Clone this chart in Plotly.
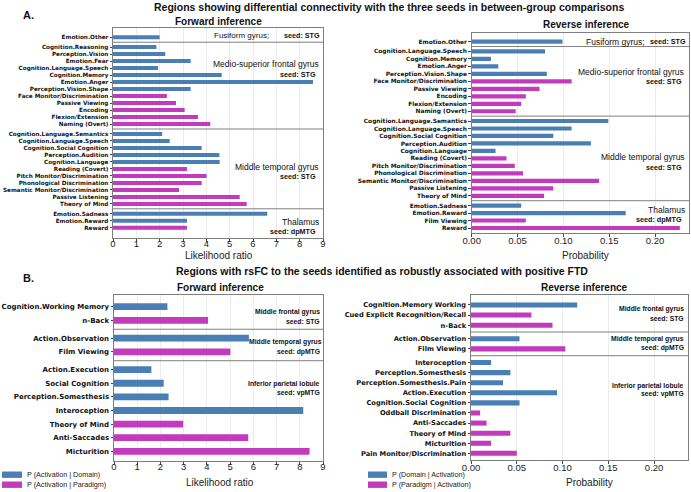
import plotly.graph_objects as go

W, H = 691, 492
BLUE = "#4A7FB6"
MAGENTA = "#C23BBC"
GRAY = "#7f7f7f"

# ---------------- Panel A, forward inference (likelihood ratio) ----------------
A_FWD_REGIONS = ["Fusiform gyrus;", "Medio-superior frontal gyrus", "Middle temporal gyrus", "Thalamus"]
A_FWD_SEEDS = ["seed: STG", "seed: STG", "seed: STG", "seed: dpMTG"]
A_FWD_SIZES = [1, 12, 11, 3]
A_FWD_CATS = [
    "Emotion.Other",
    "Cognition.Reasoning", "Perception.Vision", "Emotion.Fear", "Cognition.Language.Speech",
    "Cognition.Memory", "Emotion.Anger", "Perception.Vision.Shape", "Face Monitor/Discrimination",
    "Passive Viewing", "Encoding", "Flexion/Extension", "Naming (Overt)",
    "Cognition.Language.Semantics", "Cognition.Language.Speech", "Cognition.Social Cognition",
    "Perception.Audition", "Cognition.Language", "Reading (Covert)", "Pitch Monitor/Discrimination",
    "Phonological Discrimination", "Semantic Monitor/Discrimination", "Passive Listening", "Theory of Mind",
    "Emotion.Sadness", "Emotion.Reward", "Reward",
]
A_FWD_VALS = [
    2.0,
    1.86, 2.24, 3.33, 1.93, 4.66, 8.57, 3.33, 2.31, 2.70, 3.07, 3.64, 4.17,
    2.11, 2.43, 3.80, 4.56, 4.57, 3.17, 4.01, 3.80, 2.83, 5.43, 5.73,
    6.61, 3.17, 3.17,
]
A_FWD_KIND = [
    "D",
    "D", "D", "D", "D", "D", "D", "D", "P", "P", "P", "P", "P",
    "D", "D", "D", "D", "D", "P", "P", "P", "P", "P", "P",
    "D", "D", "P",
]

# ---------------- Panel A, reverse inference (probability) ----------------
A_REV_REGIONS = ["Fusiform gyrus;", "Medio-superior frontal gyrus", "Middle temporal gyrus", "Thalamus"]
A_REV_SEEDS = ["seed: STG", "seed: STG", "seed: STG", "seed: dpMTG"]
A_REV_SIZES = [1, 9, 11, 4]
A_REV_CATS = [
    "Emotion.Other",
    "Cognition.Language.Speech", "Cognition.Memory", "Emotion.Anger", "Perception.Vision.Shape",
    "Face Monitor/Discrimination", "Passive Viewing", "Encoding", "Flexion/Extension", "Naming (Overt)",
    "Cognition.Language.Semantics", "Cognition.Language.Speech", "Cognition.Social Cognition",
    "Perception.Audition", "Cognition.Language", "Reading (Covert)", "Pitch Monitor/Discrimination",
    "Phonological Discrimination", "Semantic Monitor/Discrimination", "Passive Listening", "Theory of Mind",
    "Emotion.Sadness", "Emotion.Reward", "Film Viewing", "Reward",
]
A_REV_VALS = [
    0.099,
    0.080, 0.021, 0.029, 0.082, 0.109, 0.074, 0.059, 0.054, 0.048,
    0.149, 0.109, 0.089, 0.130, 0.026, 0.038, 0.047, 0.056, 0.139, 0.089, 0.079,
    0.054, 0.168, 0.059, 0.227,
]
A_REV_KIND = [
    "D",
    "D", "D", "D", "D", "P", "P", "P", "P", "P",
    "D", "D", "D", "D", "D", "P", "P", "P", "P", "P", "P",
    "D", "D", "P", "P",
]

# ---------------- Panel B, forward inference (likelihood ratio) ----------------
B_FWD_REGIONS = ["Middle frontal gyrus", "Middle temporal gyrus", "Inferior parietal lobule"]
B_FWD_SEEDS = ["seed: STG", "seed: dpMTG", "seed: vpMTG"]
B_FWD_SIZES = [2, 2, 7]
B_FWD_CATS = [
    "Cognition.Working Memory", "n-Back",
    "Action.Observation", "Film Viewing",
    "Action.Execution", "Social Cognition", "Perception.Somesthesis", "Interoception",
    "Theory of Mind", "Anti-Saccades", "Micturition",
]
B_FWD_VALS = [2.30, 4.05, 5.81, 5.01, 1.61, 2.14, 2.35, 8.15, 2.98, 5.78, 8.42]
B_FWD_KIND = ["D", "P", "D", "P", "D", "D", "D", "D", "P", "P", "P"]

# ---------------- Panel B, reverse inference (probability) ----------------
B_REV_REGIONS = ["Middle frontal gyrus", "Middle temporal gyrus", "Inferior parietal lobule"]
B_REV_SEEDS = ["seed: STG", "seed: dpMTG", "seed: vpMTG"]
B_REV_SIZES = [3, 2, 10]
B_REV_CATS = [
    "Cognition.Memory Working", "Cued Explicit Recognition/Recall", "n-Back",
    "Action.Observation", "Film Viewing",
    "Interoception", "Perception.Somesthesis", "Perception.Somesthesis.Pain", "Action.Execution",
    "Cognition.Social Cognition", "Oddball Discrimination", "Anti-Saccades", "Theory of Mind",
    "Micturition", "Pain Monitor/Discrimination",
]
B_REV_VALS = [0.116, 0.066, 0.089, 0.053, 0.103, 0.022, 0.043, 0.035, 0.094,
              0.053, 0.010, 0.017, 0.043, 0.022, 0.050]
B_REV_KIND = ["D", "P", "P", "D", "P", "D", "D", "D", "D", "D", "P", "P", "P", "P", "P"]

FWD_TICKS = [0, 1, 2, 3, 4, 5, 6, 7, 8, 9]
REV_TICKS = [0.0, 0.05, 0.10, 0.15, 0.20]


def px(x):
    return x / W


def py(y):
    return 1 - y / H


def positions(sizes, gap):
    pos, seps, p = [], [], 0.0
    for gi, n in enumerate(sizes):
        for _ in range(n):
            pos.append(p)
            p += 1
        if gi < len(sizes) - 1:
            seps.append(p - 1 + gap / 2)
        p += gap - 1
    return pos, seps


PANELS = [
    dict(cats=A_FWD_CATS, vals=A_FWD_VALS, kind=A_FWD_KIND, sizes=A_FWD_SIZES,
         dx=(113, 323), dy=(28, 238), gap=1.4, top=1.33, bottom=1.47, bw=0.57,
         xr=[0, 9], ticks=FWD_TICKS, fmt="d", tfs=5.7, so=-6),
    dict(cats=A_REV_CATS, vals=A_REV_VALS, kind=A_REV_KIND, sizes=A_REV_SIZES,
         dx=(471.7, 689), dy=(33, 232.5), gap=1.3, top=1.16, bottom=0.6, bw=0.56,
         xr=[0, 0.237], ticks=REV_TICKS, fmt=".2f", tfs=5.9, so=-4),
    dict(cats=B_FWD_CATS, vals=B_FWD_VALS, kind=B_FWD_KIND, sizes=B_FWD_SIZES,
         dx=(114, 323), dy=(295, 461), gap=1.31, top=0.86, bottom=0.71, bw=0.5,
         xr=[0, 9], ticks=FWD_TICKS, fmt="d", tfs=7.0, so=-6),
    dict(cats=B_REV_CATS, vals=B_REV_VALS, kind=B_REV_KIND, sizes=B_REV_SIZES,
         dx=(471, 688), dy=(295, 460), gap=1.35, top=0.99, bottom=0.66, bw=0.5,
         xr=[0, 0.237], ticks=REV_TICKS, fmt=".2f", tfs=6.7, so=-4),
]

fig = go.Figure()
shapes = []
layout_axes = {}

for i, P in enumerate(PANELS):
    n = i + 1
    xa = "x" if n == 1 else f"x{n}"
    ya = "y" if n == 1 else f"y{n}"
    pos, seps = positions(P["sizes"], P["gap"])
    for kind, color in (("D", BLUE), ("P", MAGENTA)):
        ys = [p for p, k in zip(pos, P["kind"]) if k == kind]
        xs = [v for v, k in zip(P["vals"], P["kind"]) if k == kind]
        fig.add_trace(go.Bar(x=xs, y=ys, orientation="h", marker_color=color,
                             marker_line_width=0, width=P["bw"], xaxis=xa, yaxis=ya,
                             showlegend=False))
    for s in seps:
        shapes.append(dict(type="line", xref=f"{xa} domain", yref=ya, x0=0, x1=1, y0=s, y1=s,
                           line=dict(color=GRAY, width=1)))
    xkey = "xaxis" if n == 1 else f"xaxis{n}"
    ykey = "yaxis" if n == 1 else f"yaxis{n}"
    layout_axes[xkey] = dict(
        domain=[px(P["dx"][0]), px(P["dx"][1])], anchor=ya, range=P["xr"], automargin=False,
        tickvals=P["ticks"], tickformat=P["fmt"], showgrid=True, gridcolor="#ececec",
        gridwidth=1, zeroline=False, showline=True, mirror=True, linecolor=GRAY, linewidth=1,
        ticks="outside", ticklen=3, tickcolor="#444", ticklabelstandoff=P["so"],
        tickfont=dict(family="Liberation Sans, Arial, sans-serif", size=9.5, color="#222"),
    )
    layout_axes[ykey] = dict(
        domain=[py(P["dy"][1]), py(P["dy"][0])], anchor=xa, automargin=False,
        range=[pos[-1] + P["bottom"], -P["top"]], tickvals=pos, ticktext=P["cats"],
        showgrid=False, zeroline=False, showline=True, mirror=True, linecolor=GRAY, linewidth=1,
        ticks="outside", ticklen=2.5, tickcolor="#444",
        tickfont=dict(family="DejaVu Sans", size=P["tfs"], color="#111", weight="bold"),
    )

ann = []


def text(x, y, s, size, bold=False, anchor="center", family="Liberation Sans, Arial, sans-serif",
         color="#111"):
    ann.append(dict(x=px(x), y=py(y), xref="paper", yref="paper", text=s, showarrow=False,
                    xanchor=anchor, yanchor="middle",
                    font=dict(family=family, size=size, color=color,
                              weight="bold" if bold else "normal")))


# titles
text(389, 7, "Regions showing differential connectivity with the three seeds in between-group comparisons",
     10.5, bold=True)
text(28, 15, "A.", 11, bold=True)
text(218.5, 22, "Forward inference", 10, bold=True)
text(586, 25, "Reverse inference", 10, bold=True)
text(382, 271, "Regions with rsFC to the seeds identified as robustly associated with positive FTD",
     10.5, bold=True)
text(28, 278, "B.", 11, bold=True)
text(221, 287, "Forward inference", 10, bold=True)
text(584, 287, "Reverse inference", 10, bold=True)

# axis titles
text(219, 255, "Likelihood ratio", 10, color="#222")
text(585, 255, "Probability", 10, color="#222")
text(220, 482, "Likelihood ratio", 10, color="#222")
text(589, 482, "Probability", 10, color="#222")

# region labels, panel A forward
text(271, 35, A_FWD_REGIONS[0], 8.0, anchor="right")
text(321.5, 35, A_FWD_SEEDS[0], 7.2, bold=True, anchor="right")
text(321, 64.3, A_FWD_REGIONS[1], 8.5, anchor="right")
text(318, 74, A_FWD_SEEDS[1], 7.2, bold=True, anchor="right")
text(320.7, 167.3, A_FWD_REGIONS[2], 8.5, anchor="right")
text(318, 176.7, A_FWD_SEEDS[2], 7.2, bold=True, anchor="right")
text(320.7, 221.7, A_FWD_REGIONS[3], 8.5, anchor="right")
text(318, 231, A_FWD_SEEDS[3], 7.2, bold=True, anchor="right")

# region labels, panel A reverse
text(647, 41.7, A_REV_REGIONS[0], 8.5, anchor="right")
text(687.7, 41.7, A_REV_SEEDS[0], 7.2, bold=True, anchor="right")
text(686, 71.7, A_REV_REGIONS[1], 8.5, anchor="right")
text(684, 81.7, A_REV_SEEDS[1], 7.2, bold=True, anchor="right")
text(686.7, 157.3, A_REV_REGIONS[2], 8.5, anchor="right")
text(684, 167.3, A_REV_SEEDS[2], 7.2, bold=True, anchor="right")
text(686.7, 210, A_REV_REGIONS[3], 8.5, anchor="right")
text(684, 219.3, A_REV_SEEDS[3], 7.2, bold=True, anchor="right")

# region labels, panel B forward
text(322, 311.7, B_FWD_REGIONS[0], 6.8, bold=True, anchor="right")
text(322, 321.7, B_FWD_SEEDS[0], 6.8, bold=True, anchor="right")
text(324, 342.3, B_FWD_REGIONS[1], 6.8, bold=True, anchor="right")
text(322, 352, B_FWD_SEEDS[1], 6.8, bold=True, anchor="right")
text(322, 383.5, B_FWD_REGIONS[2], 6.8, bold=True, anchor="right")
text(322, 393.3, B_FWD_SEEDS[2], 6.8, bold=True, anchor="right")

# region labels, panel B reverse
text(686, 309.3, B_REV_REGIONS[0], 6.8, bold=True, anchor="right")
text(686, 318.3, B_REV_SEEDS[0], 6.8, bold=True, anchor="right")
text(686, 339, B_REV_REGIONS[1], 6.8, bold=True, anchor="right")
text(686, 348.3, B_REV_SEEDS[1], 6.8, bold=True, anchor="right")
text(686, 386, B_REV_REGIONS[2], 6.8, bold=True, anchor="right")
text(686, 394.3, B_REV_SEEDS[2], 6.8, bold=True, anchor="right")

# legends
LEGEND_FWD = ["P (Activation | Domain)", "P (Activation | Paradigm)"]
LEGEND_REV = ["P (Domain | Activation)", "P (Paradigm | Activation)"]
for (x0, x1, tx, labels) in ((2, 22, 25, LEGEND_FWD), (368, 387, 390, LEGEND_REV)):
    for j, (lab, col) in enumerate(zip(labels, (BLUE, MAGENTA))):
        yc = 474.7 + 10 * j
        shapes.append(dict(type="rect", xref="paper", yref="paper", x0=px(x0), x1=px(x1),
                           y0=py(yc + 3.2), y1=py(yc - 3.2), fillcolor=col, line_width=0))
        text(tx, yc, lab, 7.2, anchor="left", color="#222")

fig.update_layout(
    width=W, height=H, margin=dict(l=0, r=0, t=0, b=0, autoexpand=False),
    paper_bgcolor="white", plot_bgcolor="white", barmode="overlay",
    shapes=shapes, annotations=ann, **layout_axes,
)

fig.write_html(
    "out.html",
    config={"displayModeBar": False},
    post_script="document.body.style.margin='0';document.body.style.overflow='hidden';",
)
